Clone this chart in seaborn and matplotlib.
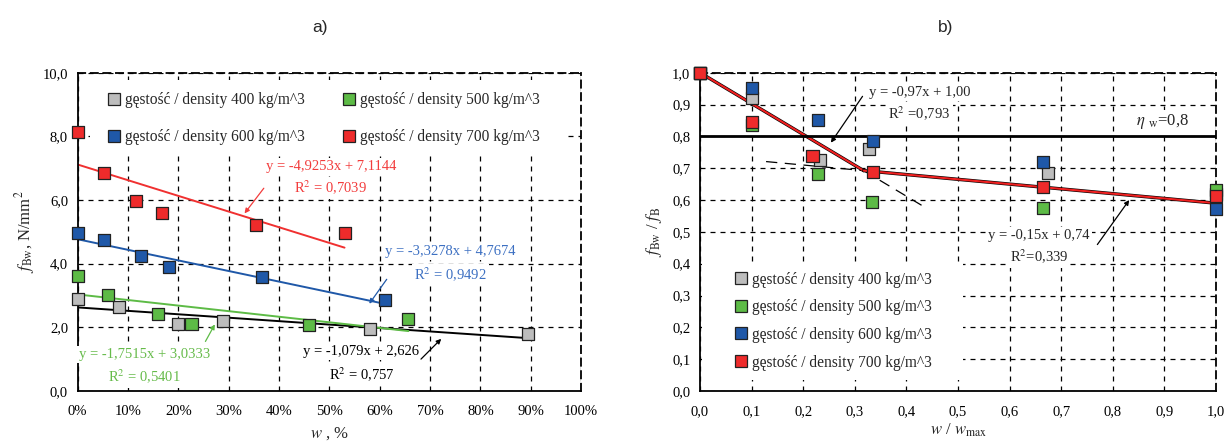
import matplotlib
matplotlib.use("Agg")
import matplotlib.pyplot as plt
import seaborn as sns
import pandas as pd
import numpy as np
from matplotlib.lines import Line2D
from matplotlib.patches import Rectangle
from matplotlib.ticker import FuncFormatter, MultipleLocator

# a) strength vs moisture content (w as fraction)
w_400 = [0.0, 0.082, 0.199, 0.289, 0.580, 0.895]
f_400 = [2.89, 2.65, 2.11, 2.21, 1.96, 1.79]
w_500 = [0.0, 0.060, 0.160, 0.226, 0.459, 0.657]
f_500 = [3.62, 3.01, 2.43, 2.12, 2.06, 2.25]
w_600 = [0.0, 0.053, 0.126, 0.182, 0.366, 0.610]
f_600 = [4.96, 4.73, 4.24, 3.89, 3.58, 2.85]
w_700 = [0.0, 0.052, 0.116, 0.167, 0.354, 0.530]
f_700 = [8.14, 6.86, 5.97, 5.59, 5.21, 4.97]

# b) relative strength vs relative moisture
x_400 = [0.0, 0.1, 0.232, 0.327, 0.674, 1.0]
r_400 = [1.0, 0.921, 0.726, 0.759, 0.685, 0.620]
x_500 = [0.0, 0.1, 0.229, 0.333, 0.665, 1.0]
r_500 = [1.0, 0.836, 0.682, 0.595, 0.576, 0.631]
x_600 = [0.0, 0.1, 0.228, 0.336, 0.665, 1.0]
r_600 = [1.0, 0.953, 0.851, 0.785, 0.720, 0.573]
x_700 = [0.0, 0.1, 0.218, 0.336, 0.665, 1.0]
r_700 = [1.0, 0.846, 0.738, 0.687, 0.642, 0.614]

labels = ["gęstość / density 400 kg/m^3", "gęstość / density 500 kg/m^3",
          "gęstość / density 600 kg/m^3", "gęstość / density 700 kg/m^3"]
colors = ["#BDBDBD", "#5DBB46", "#1F58A8", "#EE2B2B"]
line_colors = ["black", "#5DBB46", "#1F58A8", "#F03030"]
text_colors = ["black", "#66BB4A", "#3D70C2", "#F23C3C"]

# linear fits (slope, intercept, x_end) per density, panel a
fits_a = [(-1.079, 2.626, 0.895), (-1.7515, 3.0333, 0.657),
          (-3.3278, 4.7674, 0.610), (-4.9253, 7.1144, 0.530)]
# panel b: two segments
fit_b1 = (-0.97, 1.00)
fit_b2 = (-0.15, 0.74)

sns.set_theme(style="white")
plt.rcParams["font.family"] = ["Liberation Serif", "DejaVu Serif"]
plt.rcParams["mathtext.fontset"] = "stix"

df_a = pd.DataFrame({
    "w": w_400 + w_500 + w_600 + w_700,
    "f": f_400 + f_500 + f_600 + f_700,
    "series": sum([[l] * 6 for l in labels], []),
})
df_b = pd.DataFrame({
    "x": x_400 + x_500 + x_600 + x_700,
    "r": r_400 + r_500 + r_600 + r_700,
    "series": sum([[l] * 6 for l in labels], []),
})

fig = plt.figure(figsize=(12.26, 4.42), dpi=100)
ax1 = fig.add_axes([0.0634, 0.1154, 0.4106, 0.7201])
ax2 = fig.add_axes([0.571, 0.1154, 0.4208, 0.7201])

grid_kw = dict(color="black", linestyle=(0, (4, 4)), linewidth=0.9)
comma = FuncFormatter(lambda v, p: f"{v:.1f}".replace(".", ","))


def style_axes(ax):
    ax.grid(True, **grid_kw)
    ax.set_axisbelow(True)
    for side in ["left", "bottom"]:
        ax.spines[side].set_color("black")
        ax.spines[side].set_linewidth(1.3)
    for side in ["top", "right"]:
        ax.spines[side].set_color("black")
        ax.spines[side].set_linewidth(1.3)
        ax.spines[side].set_linestyle((0, (4, 3)))
    ax.tick_params(labelsize=10.5, direction="in", length=3, colors="black")
    ax.tick_params(axis="y", pad=7)
    ax.tick_params(axis="x", pad=10)
    ax.yaxis.set_major_formatter(comma)


box = dict(facecolor="white", edgecolor="none", pad=1.5)
arrow_kw = dict(arrowstyle="-|>", lw=0.9, mutation_scale=7)

# ---- panel a ----
style_axes(ax1)
for (m, b, xe), lc in zip(fits_a, line_colors):
    xs = np.array([0.0, xe])
    sns.lineplot(x=xs, y=m * xs + b, ax=ax1, color=lc, linewidth=1.4)

sns.scatterplot(data=df_a, x="w", y="f", hue="series", palette=colors, hue_order=labels,
                marker="s", s=75, edgecolor="#222222", linewidth=0.9, legend=False,
                ax=ax1, zorder=5, clip_on=False)
ax1.set_xlim(0, 1)
ax1.set_ylim(0, 10)
ax1.xaxis.set_major_locator(MultipleLocator(0.1))
ax1.yaxis.set_major_locator(MultipleLocator(2))
ax1.xaxis.set_major_formatter(FuncFormatter(lambda v, p: f"{v * 100:.0f}%"))
ax1.set_xlabel("$w$ , %", fontsize=12, labelpad=5)
ax1.set_ylabel("$f_{\\mathrm{Bw}}$, N/mm$^2$", fontsize=12, labelpad=4)

ann_a = [
    ("y = -4,9253x + 7,1144", "R$^2$ = 0,7039", 0.503, 7.05, 6.38, (0.373, 6.44), (0.328, 5.51), text_colors[3], "#F23C3C"),
    ("y = -3,3278x + 4,7674", "R$^2$ = 0,9492", 0.740, 4.37, 3.64, (0.617, 3.58), (0.576, 2.67), text_colors[2], "#1F58A8"),
    ("y = -1,7515x + 3,0333", "R$^2$ = 0,5401", 0.133, 1.15, 0.45, (0.251, 1.48), (0.275, 2.17), text_colors[1], "#5DBB46"),
    ("y = -1,079x + 2,626", "R$^2$ = 0,757", 0.563, 1.235, 0.52, (0.678, 0.94), (0.726, 1.70), "black", "black"),
]
for eq, r2, tx, ty1, ty2, tail, tip, tc, ac in ann_a:
    ax1.text(tx, ty1, eq, ha="center", va="center", fontsize=10.5, color=tc, bbox=box, zorder=4)
    ax1.text(tx, ty2, r2, ha="center", va="center", fontsize=10.5, color=tc, bbox=box, zorder=4)
    ax1.annotate("", xy=tip, xytext=tail, arrowprops=dict(color=ac, **arrow_kw), zorder=6)

h = [Line2D([], [], marker="s", linestyle="none", markersize=8.5, markerfacecolor=c,
            markeredgecolor="#222222", markeredgewidth=0.9) for c in colors]
order = [0, 2, 1, 3]
ax1.add_patch(Rectangle((0.024, 0.751), 0.944, 0.226, transform=ax1.transAxes,
                        facecolor="white", edgecolor="none", zorder=1))
leg1 = ax1.legend([h[i] for i in order], [labels[i] for i in order], ncol=2,
                  loc="upper left", bbox_to_anchor=(0.041, 0.968),
                  fontsize=11.2, frameon=False, columnspacing=2.44,
                  handlelength=0.8, handletextpad=0.3, labelspacing=1.35, borderaxespad=0,
                  borderpad=0.6)
leg1.set_zorder(3)

fig.text(0.261, 0.937, "a)", fontsize=12.5, family="Liberation Sans", ha="center", va="center")
fig.text(0.771, 0.937, "b)", fontsize=12.5, family="Liberation Sans", ha="center", va="center")

# ---- panel b ----
style_axes(ax2)
xi = (fit_b1[1] - fit_b2[1]) / (fit_b2[0] - fit_b1[0])
seg1 = np.array([0.0, xi])
seg2 = np.array([xi, 1.0])
ext1 = np.array([xi, 0.44])
ext2 = np.array([0.128, xi])
for xs, fit in [(ext1, fit_b1), (ext2, fit_b2)]:
    sns.lineplot(x=xs, y=fit[0] * xs + fit[1], ax=ax2, color="black", linewidth=0.9,
                 linestyle=(0, (9, 6)))
for xs, fit in [(seg1, fit_b1), (seg2, fit_b2)]:
    sns.lineplot(x=xs, y=fit[0] * xs + fit[1], ax=ax2, color="black", linewidth=2.4)
    sns.lineplot(x=xs, y=fit[0] * xs + fit[1], ax=ax2, color="#F02020", linewidth=1.5)
ax2.axhline(0.8, color="black", linewidth=2)

sns.scatterplot(data=df_b, x="x", y="r", hue="series", palette=colors, hue_order=labels,
                marker="s", s=75, edgecolor="#222222", linewidth=0.9, legend=False,
                ax=ax2, zorder=5, clip_on=False)
ax2.set_xlim(0, 1)
ax2.set_ylim(0, 1)
ax2.xaxis.set_major_locator(MultipleLocator(0.1))
ax2.yaxis.set_major_locator(MultipleLocator(0.1))
ax2.xaxis.set_major_formatter(comma)
ax2.set_xlabel("$w$ / $w_{\\mathrm{max}}$", fontsize=12, labelpad=3)
ax2.set_ylabel("$f_{\\mathrm{Bw}}$ / $f_{\\mathrm{B}}$", fontsize=12, labelpad=6)

ax2.text(0.4254, 0.938, "y = -0,97x + 1,00", ha="center", va="center", fontsize=10.5, bbox=box, zorder=4)
ax2.text(0.4254, 0.872, "R$^2$ =0,793", ha="center", va="center", fontsize=10.5, bbox=box, zorder=4)
ax2.annotate("", xy=(0.2506, 0.773), xytext=(0.318, 0.933), arrowprops=dict(color="black", **arrow_kw), zorder=6)
ax2.text(0.657, 0.487, "y = -0,15x + 0,74", ha="center", va="center", fontsize=10.5, bbox=box, zorder=4)
ax2.text(0.657, 0.420, "R$^2$=0,339", ha="center", va="center", fontsize=10.5, bbox=box, zorder=4)
ax2.annotate("", xy=(0.835, 0.607), xytext=(0.767, 0.453), arrowprops=dict(color="black", **arrow_kw), zorder=6)
ax2.text(0.896, 0.848, "$\\eta$ $_{\\mathrm{w}}$=0,8", ha="center", va="center", fontsize=12,
         bbox=box, zorder=4)

# white area behind the legend, hiding the grid like the original
ax2.add_patch(Rectangle((0.003, 0.035), 0.507, 0.37, transform=ax2.transAxes,
                        facecolor="white", edgecolor="none", zorder=1))
leg2 = ax2.legend(h, labels, loc="lower left", bbox_to_anchor=(0.05, 0.035),
                  fontsize=11.2, frameon=False,
                  handlelength=0.8, handletextpad=0.3, labelspacing=0.75, borderaxespad=0,
                  borderpad=0.6)
leg2.set_zorder(3)

fig.savefig("out.png", dpi=100)
